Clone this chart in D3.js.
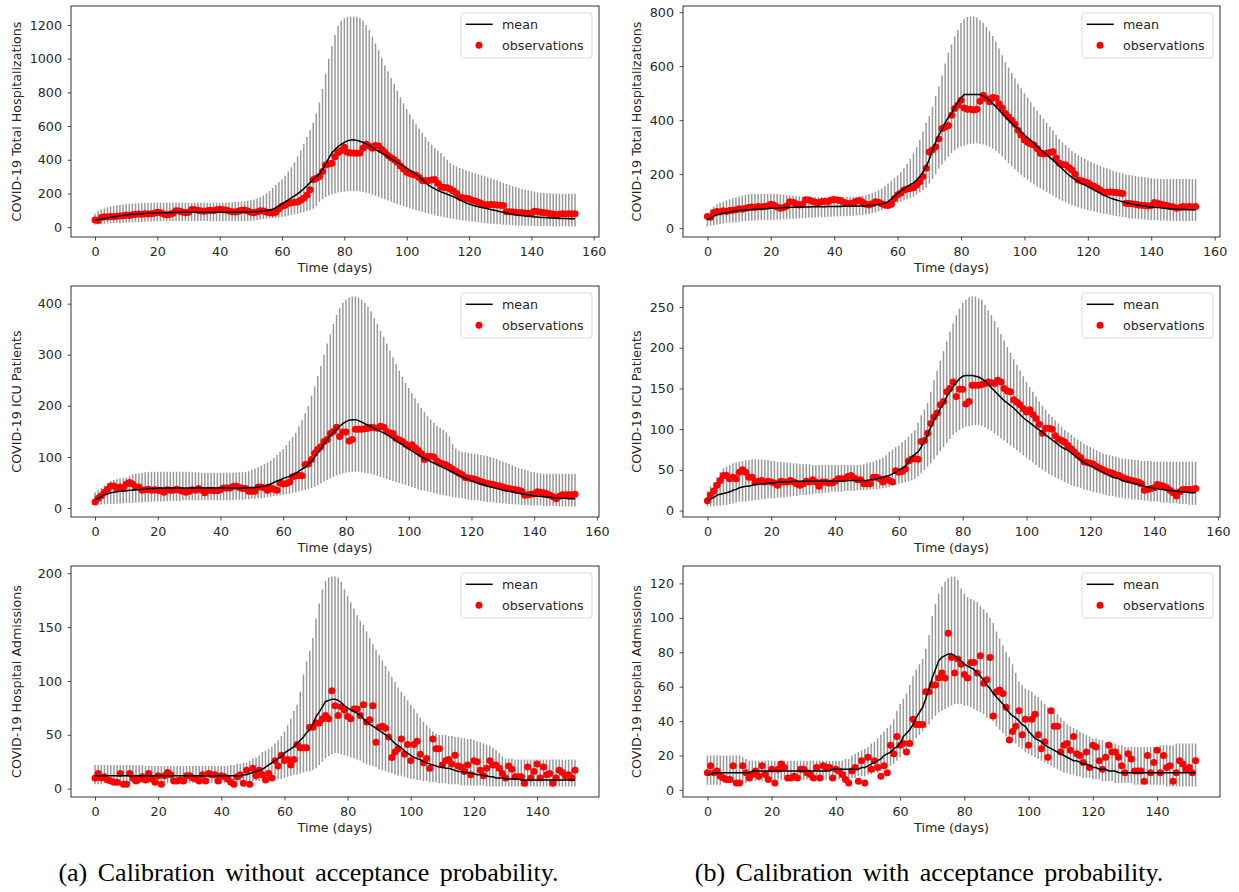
<!DOCTYPE html>
<html>
<head>
<meta charset="utf-8">
<script src="https://cdn.jsdelivr.net/npm/d3@7"></script>
<style>
  body { margin: 0; background: #fff; }
  svg { display: block; }
</style>
</head>
<body>
<svg id="chart" width="1239" height="892"></svg>
<script>
// ---- data: one value per day ----

// observations (same data in (a) and (b))
const totalObs = [43,40,58,62,60,64,62,65,66,68,
72,70,74,76,78,76,80,78,80,82,
88,85,78,74,76,82,98,96,90,86,
88,105,104,100,96,94,98,100,98,104,
106,104,102,96,92,90,94,100,102,96,
88,86,90,98,96,90,86,84,88,110,
124,130,141,145,148,150,160,172,191,222,
282,290,301,330,369,375,380,418,443,455,
474,445,440,440,438,440,470,492,480,468,
484,482,461,445,425,412,400,385,363,345,
326,318,312,308,295,277,275,277,280,283,
260,240,236,234,225,215,200,178,175,172,
168,160,155,148,140,133,133,134,133,132,
130,128,92,91,90,88,86,85,84,82,
84,95,92,88,86,84,80,78,74,76,
80,78,80,78,80];

const icuObs = [12,19,24,31,37,43,43,39,41,39,
47,50,47,41,41,35,36,37,35,36,
35,34,31,36,35,35,37,35,33,31,
33,36,35,38,35,30,35,35,34,34,
36,39,39,39,42,43,40,38,38,33,
33,33,41,41,39,35,39,37,35,49,
47,48,51,61,63,64,63,85,86,95,
107,115,120,130,134,146,150,158,140,149,
149,131,134,154,154,154,155,156,158,157,
156,160,158,150,147,146,136,133,130,125,
121,124,118,113,106,95,101,101,100,92,
88,86,84,80,76,72,68,65,60,59,
58,57,54,52,50,48,47,46,44,43,
41,39,38,37,36,35,33,25,26,27,
28,32,31,30,28,25,22,18,23,26,
26,26,26,27];

const admObs = [10,14,10,11,8,7,6,6,14,4,
4,14,10,7,9,11,8,14,9,6,
12,4,12,15,13,7,7,8,7,12,
12,10,9,7,13,7,14,13,13,7,
12,11,9,6,4,11,13,5,17,4,
19,12,17,13,8,14,10,26,21,31,
26,27,22,27,41,38,38,38,57,57,
61,61,65,68,65,91,77,68,76,73,
67,65,74,74,68,78,62,64,77,43,
57,58,56,48,29,34,37,46,32,41,
26,41,44,32,24,28,19,46,37,37,
22,26,27,23,31,21,20,16,22,13,
26,25,17,12,19,26,22,22,19,14,
10,21,18,11,11,11,5,20,10,16,
23,10,20,13,14,5,10,17,15,12,
13,10,17];

// (a) without acceptance probability
const totalA_mean = [40,44,48,52,56,59,62,65,68,70,
73,75,77,78,79,80,81,82,83,84,
85,85,86,86,87,87,87,88,88,88,
89,89,89,89,89,89,89,89,89,89,
89,89,89,89,89,89,89,90,90,90,
90,91,92,94,96,99,102,106,115,127,
139,150,162,174,186,198,212,228,245,265,
285,300,316,345,376,410,440,460,478,492,
503,512,517,518,515,510,503,494,484,472,
460,450,440,430,418,406,395,384,372,362,
350,338,326,314,298,282,265,250,238,228,
218,210,203,195,188,180,172,162,153,145,
137,131,126,121,117,113,109,105,101,97,
92,88,84,80,77,74,71,69,67,65,
63,61,60,58,57,56,55,54,53,52,
51,51,50,50,50];
const totalA_lo = [14,16,18,20,21,22,23,24,24,25,
26,27,28,29,30,31,32,33,34,35,
36,36,36,36,36,36,36,36,36,36,
36,36,36,36,36,36,36,36,36,36,
36,36,36,36,36,36,36,36,36,36,
38,40,42,45,48,50,52,54,56,58,
60,64,68,72,76,80,85,90,95,100,
110,125,150,165,178,188,195,200,205,208,
211,213,214,214,213,211,208,204,200,193,
186,179,172,165,158,151,144,137,131,125,
119,113,107,101,96,91,86,81,76,71,
67,63,59,56,52,49,46,43,40,38,
35,33,31,29,27,25,23,21,20,18,
17,15,14,13,12,11,10,10,9,9,
8,8,7,7,7,6,6,6,5,5,
5,5,4,4,4];
const totalA_hi = [80,95,105,112,118,123,127,130,133,135,
137,139,140,141,142,143,144,144,145,145,
145,145,145,145,145,145,145,145,145,145,
145,145,145,145,145,145,145,145,145,145,
145,145,146,147,148,149,150,152,154,157,
160,164,170,178,188,200,215,232,250,268,
285,305,330,355,385,420,455,495,535,575,
620,675,740,820,910,1000,1075,1140,1195,1225,
1240,1248,1250,1250,1248,1240,1225,1200,1170,1130,
1090,1050,1005,960,925,885,850,810,770,735,
700,670,640,610,585,560,535,510,490,470,
455,440,420,400,380,368,360,352,345,338,
332,326,320,314,308,302,296,290,284,278,
270,263,257,250,244,238,232,227,222,218,
214,210,207,205,203,202,201,200,199,199,
198,198,198,198,198];

const icuA_mean = [16,19,23,26,28,30,31,32,33,33,
34,35,35,36,36,37,37,38,38,38,
39,39,39,39,39,39,39,39,39,39,
39,39,39,39,39,39,39,39,39,39,
39,39,39,39,39,39,39,39,39,40,
40,40,41,42,43,45,47,50,53,55,
58,60,62,65,68,72,76,80,86,92,
100,108,117,126,134,142,148,154,160,165,
169,172,173,173,171,168,165,162,159,156,
153,150,147,144,140,136,132,128,124,120,
116,112,108,104,100,97,94,91,88,85,
82,79,76,73,70,67,64,61,58,56,
53,51,49,47,45,43,41,40,38,37,
35,34,33,32,30,29,28,27,26,25,
24,23,23,22,21,21,20,20,19,19,
19,18,18,18];
const icuA_lo = [7,7,7,7,8,8,8,9,9,9,
10,10,10,11,11,11,12,12,12,13,
13,13,13,14,14,14,14,14,15,15,
15,15,15,15,15,15,15,15,15,15,
15,15,15,15,15,16,16,16,17,17,
18,18,19,19,20,21,22,23,24,25,
26,27,28,30,31,33,34,36,37,39,
42,45,48,52,55,58,61,64,66,68,
69,70,71,71,71,70,69,68,67,65,
63,61,59,57,55,53,51,49,47,45,
43,41,39,37,35,34,32,31,29,28,
26,25,24,23,22,21,20,19,18,17,
16,15,15,14,13,12,12,11,10,10,
9,9,8,8,7,7,6,6,6,5,
5,5,5,4,4,4,4,4,3,3,
3,3,3,3];
const icuA_hi = [31,35,39,44,49,53,55,57,58,59,
60,63,66,67,68,69,70,70,71,71,
71,71,71,71,71,71,71,71,71,71,
71,70,70,70,69,69,69,69,69,69,
69,69,69,69,69,69,70,70,71,72,
75,77,80,83,86,89,93,98,104,110,
115,123,131,139,147,160,172,185,200,220,
238,258,278,300,322,340,360,378,392,402,
408,412,414,414,412,408,402,394,385,372,
360,347,335,322,308,295,282,269,257,245,
235,225,215,205,196,188,180,173,167,161,
157,153,148,140,125,116,112,110,109,108,
107,106,105,104,103,102,100,98,96,93,
91,89,86,84,81,79,77,75,73,71,
70,69,68,67,67,67,67,67,67,67,
67,67,67,67];

const admA_mean = [12,12,12,12,12,12,12,12,12,12,
12,12,12,12,12,12,12,12,12,12,
12,12,12,12,12,12,12,12,12,12,
12,12,12,12,12,12,12,12,12,12,
12,12,12,12,12,12,12,13,13,14,
15,16,17,18,20,22,24,26,28,30,
33,35,37,39,42,45,48,52,55,60,
67,71,76,81,82,83,83,82,80,77,
75,73,72,70,68,65,62,60,58,56,
54,52,50,48,45,42,40,38,35,33,
31,29,28,27,25,24,23,22,21,20,
20,19,19,18,17,16,16,15,15,14,
14,13,13,12,12,11,11,10,10,10,
9,9,9,9,9,8,8,8,8,8,
8,8,8,8,8,8,8,8,8,8,
8,8,8];
const admA_lo = [4,4,4,5,5,5,5,5,5,5,
5,5,5,5,5,5,5,5,5,5,
5,5,5,5,5,5,5,5,5,5,
5,5,5,5,5,5,5,5,5,5,
5,5,5,5,5,6,6,6,6,7,
7,7,7,7,8,8,8,9,9,9,
10,11,12,13,13,14,15,16,16,17,
19,22,25,28,30,32,33,33,32,31,
30,29,28,27,26,24,23,22,21,20,
18,17,16,15,14,13,12,12,11,10,
9,9,8,8,7,7,6,6,6,5,
5,5,4,4,4,4,3,3,3,3,
3,3,3,3,2,2,2,2,2,2,
2,2,2,2,2,2,2,2,2,2,
2,2,2,2,2,2,2,2,2,2,
2,2,2];
const admA_hi = [22,22,22,22,22,22,22,22,22,22,
22,22,22,22,22,22,21,21,21,21,
21,21,21,21,21,21,21,21,21,21,
21,21,21,21,21,21,21,21,21,21,
21,21,21,22,22,23,23,24,24,26,
28,29,31,34,35,37,39,42,45,49,
53,59,65,72,78,90,106,118,128,140,
158,172,185,193,196,197,197,196,192,185,
179,173,167,161,156,152,146,140,134,129,
124,119,114,109,104,99,94,90,86,82,
78,74,70,66,62,59,56,53,51,50,
50,50,49,49,48,48,47,47,46,46,
45,44,43,42,41,40,38,36,33,30,
28,28,28,27,27,27,27,27,27,27,
27,27,27,27,27,27,27,27,27,27,
27,27,27];

// (b) with acceptance probability
const totalB_mean = [31,38,44,49,52,55,57,59,62,64,
65,66,67,68,69,70,71,71,72,73,
74,74,75,75,76,76,77,77,77,78,
78,78,78,79,79,79,79,79,80,80,
80,80,80,81,81,81,81,82,82,82,
83,84,85,86,88,90,93,98,108,118,
129,137,146,154,161,168,178,191,208,227,
255,290,318,345,365,390,410,425,448,468,
482,495,495,495,495,495,495,490,482,472,
462,450,438,425,412,400,388,378,368,356,
345,335,325,314,303,292,282,272,262,252,
241,230,219,208,197,188,180,173,166,160,
154,148,141,135,129,122,117,112,108,104,
101,98,95,92,89,87,85,83,81,79,
78,77,76,75,74,73,72,71,70,70,
69,69,68,68,68];
const totalB_lo = [6,9,11,13,15,17,19,20,21,22,
24,25,26,27,27,28,29,29,30,30,
31,31,32,32,33,33,34,35,35,36,
37,37,38,38,39,40,40,41,42,42,
43,43,44,44,45,46,46,47,48,48,
50,52,55,58,62,66,71,76,81,86,
92,97,102,107,112,117,124,132,140,150,
165,182,200,220,235,250,265,278,288,296,
302,307,310,312,313,314,313,310,306,301,
294,286,276,265,253,241,229,218,207,197,
188,179,170,162,154,147,140,133,127,121,
113,107,101,96,90,85,81,77,73,70,
67,64,61,58,56,53,51,49,47,45,
43,41,39,37,36,35,34,33,32,31,
30,29,29,28,28,27,27,27,26,26,
26,26,26,26,26];
const totalB_hi = [55,70,80,88,94,98,103,107,111,114,
117,120,123,125,126,127,127,127,127,127,
127,127,126,125,124,122,121,120,119,118,
117,117,116,116,115,115,115,114,114,114,
114,114,114,114,115,115,116,117,118,120,
122,126,130,135,140,146,155,165,175,185,
195,208,222,238,256,277,300,326,358,390,
415,450,490,525,565,610,650,680,710,735,
760,775,782,784,784,780,770,760,745,730,
712,690,665,640,615,595,575,555,535,518,
500,484,466,450,435,420,405,390,376,363,
345,330,318,307,296,286,278,270,263,256,
250,245,240,235,230,225,221,217,213,209,
205,202,199,197,195,193,191,190,188,187,
185,184,183,182,182,182,182,182,182,182,
182,182,182,182,182];

const icuB_mean = [12,14,16,19,20,21,22,23,25,26,
28,29,30,30,31,32,32,33,33,34,
34,34,35,35,35,35,35,36,36,36,
36,36,36,36,36,36,36,36,36,36,
36,36,36,37,37,37,37,37,37,37,
37,38,38,39,40,41,42,43,45,47,
50,52,54,60,66,69,72,78,85,93,
103,111,118,125,132,140,146,152,157,162,
165,166,166,166,165,164,162,159,155,151,
147,143,139,135,132,129,126,122,118,114,
111,108,105,102,99,96,93,90,87,84,
81,78,76,74,71,68,65,62,59,57,
55,53,51,49,47,45,43,41,40,39,
37,36,35,34,33,32,31,30,29,28,
27,27,26,26,25,25,24,24,23,23,
23,22,22,22];
const icuB_lo = [5,5,5,6,6,7,7,8,9,10,
11,11,11,12,12,13,13,14,14,15,
15,15,16,16,16,17,17,18,18,19,
19,19,20,20,21,21,21,22,22,23,
23,23,23,24,24,24,24,25,25,25,
25,26,26,26,27,27,28,29,31,32,
33,34,35,36,37,39,42,46,50,54,
58,63,68,73,78,83,88,93,96,99,
101,103,104,105,105,105,104,102,100,98,
95,92,89,86,83,80,77,74,71,68,
65,62,59,56,53,50,48,45,43,41,
39,37,35,33,31,30,29,28,26,25,
24,23,22,21,20,19,18,18,17,16,
16,15,15,14,14,13,13,12,12,11,
11,11,10,10,10,9,9,9,8,8,
8,7,7,7];
const icuB_hi = [24,30,35,41,47,52,54,56,58,59,
60,61,62,62,63,63,63,63,62,62,
61,61,60,60,59,59,59,58,58,57,
57,57,57,56,56,56,56,56,56,56,
56,56,56,56,56,56,56,56,56,57,
58,59,60,62,63,65,68,72,75,78,
80,84,87,91,95,99,108,117,124,132,
146,160,172,184,196,208,220,230,240,248,
255,259,262,263,263,261,259,253,246,240,
233,225,217,209,201,194,186,179,172,165,
158,152,146,140,134,129,124,119,115,111,
107,103,99,96,93,90,87,85,82,80,
78,76,74,72,70,69,68,67,66,65,
64,64,63,63,62,62,61,61,61,61,
60,60,60,60,60,60,60,60,60,60,
60,60,60,60];

const admB_mean = [9,9,10,10,10,10,10,10,10,10,
10,10,10,10,11,11,11,11,11,11,
11,11,11,11,11,11,11,11,11,11,
11,11,11,11,11,11,11,11,11,12,
12,12,12,12,12,12,12,12,13,13,
14,15,16,17,18,20,21,22,24,25,
27,31,33,35,38,42,45,48,53,59,
65,70,75,77,78,79,79,78,76,75,
73,72,71,70,68,66,64,61,59,56,
54,52,50,47,45,43,42,40,38,37,
34,32,30,29,28,26,25,24,23,22,
21,20,19,18,17,17,16,15,15,14,
13,13,12,12,12,11,11,11,10,10,
10,10,10,10,10,10,10,10,10,10,
10,10,10,10,10,10,10,10,10,10,
10,10,10];
const admB_lo = [3,3,3,3,3,4,4,4,4,4,
4,4,4,5,5,5,5,5,5,6,
6,6,6,6,6,6,6,6,6,6,
6,6,6,6,6,6,6,6,6,6,
6,6,6,6,7,7,7,8,8,8,
9,9,10,10,11,12,13,14,15,17,
19,21,23,26,28,30,32,34,36,38,
41,43,45,46,47,48,49,50,50,50,
49,49,48,47,46,45,44,42,41,40,
37,35,33,31,29,28,27,25,24,22,
21,20,19,18,17,16,15,14,13,12,
11,10,10,9,9,8,8,7,7,7,
6,6,6,5,5,5,5,4,4,4,
4,4,4,3,3,3,3,3,3,3,
3,3,3,2,2,2,2,2,2,2,
2,2,2];
const admB_hi = [20,20,20,20,20,20,20,20,20,20,
20,19,18,17,17,17,17,17,17,17,
17,17,17,17,17,17,17,17,17,17,
17,17,17,17,17,17,17,17,17,17,
17,17,17,18,18,20,21,22,23,24,
25,27,28,30,32,34,36,38,41,46,
50,53,56,61,66,70,73,76,82,90,
101,108,114,118,121,123,124,124,122,117,
114,112,111,110,109,107,105,103,100,97,
92,88,84,80,77,73,68,63,61,59,
58,57,55,54,52,50,48,47,45,44,
42,40,38,37,36,35,34,33,32,31,
30,30,29,29,28,28,27,27,26,26,
25,25,25,25,25,25,25,25,25,25,
25,26,26,26,26,26,27,27,27,27,
27,27,27];

// tick labels
const xTicksLong = [0, 20, 40, 60, 80, 100, 120, 140, 160];
const xTicksShort = [0, 20, 40, 60, 80, 100, 120, 140];
const yTicksTotalA = [0, 200, 400, 600, 800, 1000, 1200];
const yTicksTotalB = [0, 200, 400, 600, 800];
const yTicksIcuA = [0, 100, 200, 300, 400];
const yTicksIcuB = [0, 50, 100, 150, 200, 250];
const yTicksAdmA = [0, 50, 100, 150, 200];
const yTicksAdmB = [0, 20, 40, 60, 80, 100, 120];

const captions = ["(a) Calibration without acceptance probability.",
                  "(b) Calibration with acceptance probability."];

// ---- layout ----
const svg = d3.select("#chart");
svg.append("rect").attr("width", 1239).attr("height", 892).attr("fill", "#fff");

const colX = [[71, 599], [683, 1220]];
const rowY = [[6, 237], [286, 517], [566, 797]];
const labelX = [20.5, 640.5];
const captionX = [308.5, 929];
const tickFont = "DejaVu Sans, Verdana, sans-serif";
const textColor = "#262626";

const panels = [
  { col: 0, row: 0, label: "COVID-19 Total Hospitalizations", mean: totalA_mean, lo: totalA_lo, hi: totalA_hi, obs: totalObs, yTicks: yTicksTotalA, xTicks: xTicksLong },
  { col: 1, row: 0, label: "COVID-19 Total Hospitalizations", mean: totalB_mean, lo: totalB_lo, hi: totalB_hi, obs: totalObs, yTicks: yTicksTotalB, xTicks: xTicksLong },
  { col: 0, row: 1, label: "COVID-19 ICU Patients", mean: icuA_mean, lo: icuA_lo, hi: icuA_hi, obs: icuObs, yTicks: yTicksIcuA, xTicks: xTicksLong },
  { col: 1, row: 1, label: "COVID-19 ICU Patients", mean: icuB_mean, lo: icuB_lo, hi: icuB_hi, obs: icuObs, yTicks: yTicksIcuB, xTicks: xTicksLong },
  { col: 0, row: 2, label: "COVID-19 Hospital Admissions", mean: admA_mean, lo: admA_lo, hi: admA_hi, obs: admObs, yTicks: yTicksAdmA, xTicks: xTicksShort },
  { col: 1, row: 2, label: "COVID-19 Hospital Admissions", mean: admB_mean, lo: admB_lo, hi: admB_hi, obs: admObs, yTicks: yTicksAdmB, xTicks: xTicksShort }
];

panels.forEach((p, k) => {
  const [x0, x1] = colX[p.col];
  const [y0, y1] = rowY[p.row];
  const n = p.mean.length - 1;

  // matplotlib-like 5% margins
  const x = d3.scaleLinear().domain([-0.05 * n, 1.05 * n]).range([x0, x1]);
  const [vmin, vmax] = d3.extent(p.lo.concat(p.hi, p.obs, p.mean));
  const pad = (vmax - vmin) * 0.05;
  const y = d3.scaleLinear().domain([vmin - pad, vmax + pad]).range([y1, y0]);

  const g = svg.append("g");

  svg.append("clipPath").attr("id", "clip" + k)
    .append("rect").attr("x", x0).attr("y", y0).attr("width", x1 - x0).attr("height", y1 - y0);

  const plot = g.append("g").attr("clip-path", `url(#clip${k})`);

  // error bars
  const bars = p.hi.map((h, i) => ({ day: i, lo: p.lo[i], hi: h }));
  plot.selectAll("line.err")
    .data(bars)
    .join("line")
    .attr("class", "err")
    .attr("x1", d => x(d.day))
    .attr("x2", d => x(d.day))
    .attr("y1", d => y(d.lo))
    .attr("y2", d => y(d.hi))
    .attr("stroke", "#999")
    .attr("stroke-width", 1.5);

  // observations
  plot.selectAll("circle.obs")
    .data(p.obs)
    .join("circle")
    .attr("class", "obs")
    .attr("cx", (d, i) => x(i))
    .attr("cy", d => y(d))
    .attr("r", 3.5)
    .attr("fill", "#ff0000");

  // mean
  const line = d3.line().x((d, i) => x(i)).y(d => y(d));
  plot.append("path")
    .datum(p.mean)
    .attr("fill", "none")
    .attr("stroke", "#000")
    .attr("stroke-width", 1.5)
    .attr("d", line);

  // axes
  const xAxis = g.append("g")
    .attr("transform", `translate(0,${y1})`)
    .call(d3.axisBottom(x).tickValues(p.xTicks).tickFormat(d3.format("d"))
      .tickSize(3.5).tickPadding(6.5).tickSizeOuter(0));
  const yAxis = g.append("g")
    .attr("transform", `translate(${x0},0)`)
    .call(d3.axisLeft(y).tickValues(p.yTicks).tickFormat(d3.format("d"))
      .tickSize(3.5).tickPadding(5.5).tickSizeOuter(0));
  [xAxis, yAxis].forEach(a => {
    a.select(".domain").remove();
    a.selectAll("line").attr("stroke", textColor).attr("stroke-width", 0.8);
    a.selectAll("text")
      .attr("fill", textColor)
      .style("font-family", tickFont)
      .style("font-size", "12.7px");
  });

  // frame
  g.append("rect")
    .attr("x", x0).attr("y", y0)
    .attr("width", x1 - x0).attr("height", y1 - y0)
    .attr("fill", "none")
    .attr("stroke", "#000")
    .attr("stroke-width", 0.8);

  // axis labels
  g.append("text")
    .attr("x", (x0 + x1) / 2)
    .attr("y", y1 + 34.5)
    .attr("text-anchor", "middle")
    .attr("fill", textColor)
    .style("font-family", tickFont)
    .style("font-size", "12.7px")
    .text("Time (days)");

  g.append("text")
    .attr("transform", `translate(${labelX[p.col]},${(y0 + y1) / 2}) rotate(-90)`)
    .attr("text-anchor", "middle")
    .attr("fill", textColor)
    .style("font-family", tickFont)
    .style("font-size", "12.7px")
    .text(p.label);

  // legend
  const lx = x1 - 7 - 131, ly = y0 + 7;
  const lg = g.append("g");
  lg.append("rect")
    .attr("x", lx).attr("y", ly)
    .attr("width", 131).attr("height", 45)
    .attr("rx", 3)
    .attr("fill", "#fff").attr("fill-opacity", 0.8)
    .attr("stroke", "#d0d0d0").attr("stroke-width", 0.8);
  lg.append("line")
    .attr("x1", lx + 4.7).attr("x2", lx + 31.7)
    .attr("y1", ly + 11.3).attr("y2", ly + 11.3)
    .attr("stroke", "#000").attr("stroke-width", 1.5);
  lg.append("circle")
    .attr("cx", lx + 18).attr("cy", ly + 32.3)
    .attr("r", 3.5).attr("fill", "#ff0000");
  lg.selectAll("text.leg")
    .data(["mean", "observations"])
    .join("text")
    .attr("class", "leg")
    .attr("x", lx + 41)
    .attr("y", (d, i) => ly + 11.3 + i * 21 + 4.5)
    .attr("fill", textColor)
    .style("font-family", tickFont)
    .style("font-size", "12.7px")
    .text(d => d);
});

// captions
svg.selectAll("text.caption")
  .data(captions)
  .join("text")
  .attr("class", "caption")
  .attr("x", (d, i) => captionX[i])
  .attr("y", 881)
  .attr("text-anchor", "middle")
  .attr("fill", "#000")
  .style("font-family", "Liberation Serif, Times New Roman, serif")
  .style("font-size", "26px")
  .style("word-spacing", "4px")
  .text(d => d);
</script>
</body>
</html>
